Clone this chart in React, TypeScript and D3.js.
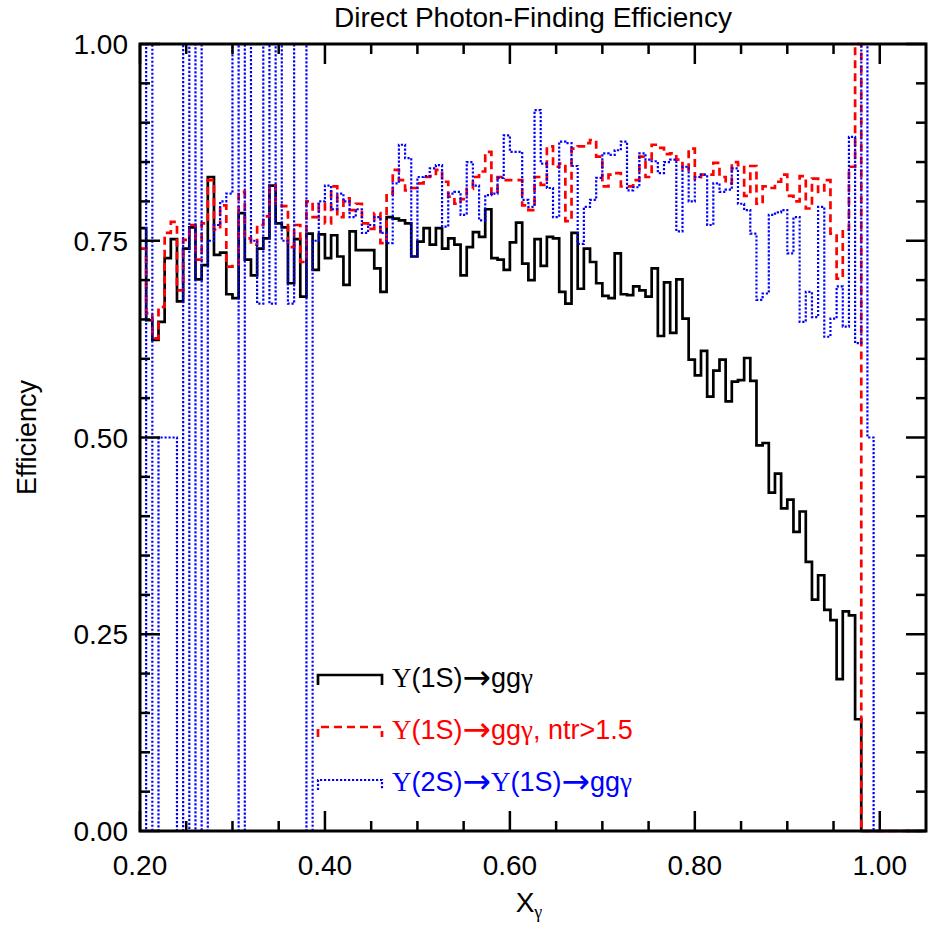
import React from "react";
import * as d3 from "d3";

// ---- data (efficiency per bin, bins of width 1/150 starting at x = 0.20) ----
const BIN_START = 0.2;
const BIN_WIDTH = 1 / 150;

const ups1S: number[] = [
  0.766, 0.649, 0.624, 0.647, 0.728, 0.752, 0.673, 0.740, 0.767, 0.701,
  0.719, 0.831, 0.732, 0.735, 0.682, 0.677, 0.785, 0.726, 0.706, 0.740,
  0.753, 0.820, 0.772, 0.767, 0.696, 0.752, 0.679, 0.759, 0.713, 0.758,
  0.728, 0.757, 0.730, 0.694, 0.762, 0.738, 0.738, 0.738, 0.715, 0.685,
  0.780, 0.778, 0.776, 0.772, 0.730, 0.749, 0.766, 0.745, 0.766, 0.740,
  0.753, 0.745, 0.706, 0.742, 0.761, 0.755, 0.790, 0.728, 0.726, 0.713,
  0.748, 0.773, 0.721, 0.700, 0.752, 0.718, 0.755, 0.753, 0.685, 0.670,
  0.760, 0.689, 0.740, 0.723, 0.696, 0.680, 0.677, 0.734, 0.682, 0.681,
  0.692, 0.687, 0.679, 0.715, 0.629, 0.697, 0.633, 0.701, 0.651, 0.599,
  0.579, 0.610, 0.552, 0.585, 0.599, 0.546, 0.571, 0.573, 0.601, 0.572,
  0.490, 0.493, 0.430, 0.454, 0.410, 0.421, 0.380, 0.406, 0.342, 0.294,
  0.325, 0.281, 0.268, 0.193, 0.279, 0.274, 0.142,
];

const ups1SNtr: number[] = [
  0.740, 0.658, 0.626, 0.666, 0.760, 0.774, 0.687, 0.751, 0.770, 0.726,
  0.772, 0.827, 0.764, 0.795, 0.717, 0.720, 0.812, 0.753, 0.745, 0.770,
  0.781, 0.820, 0.795, 0.794, 0.742, 0.770, 0.723, 0.800, 0.780, 0.797,
  0.772, 0.819, 0.780, 0.804, 0.789, 0.797, 0.772, 0.765, 0.785, 0.747,
  0.810, 0.840, 0.827, 0.814, 0.817, 0.823, 0.831, 0.832, 0.840, 0.825,
  0.806, 0.797, 0.803, 0.816, 0.831, 0.838, 0.863, 0.810, 0.831, 0.827,
  0.827, 0.827, 0.795, 0.789, 0.831, 0.821, 0.870, 0.844, 0.848, 0.775,
  0.867, 0.870, 0.874, 0.878, 0.857, 0.819, 0.834, 0.836, 0.819, 0.819,
  0.827, 0.857, 0.831, 0.872, 0.868, 0.860, 0.861, 0.853, 0.840, 0.867,
  0.829, 0.834, 0.834, 0.849, 0.831, 0.823, 0.850, 0.846, 0.807, 0.845,
  0.797, 0.819, 0.817, 0.825, 0.834, 0.807, 0.800, 0.832, 0.791, 0.829,
  0.812, 0.827, 0.759, 0.702, 0.764, 0.844, 1.000,
];

const ups2S: number[] = [
  0.000, 1.000, 0.000, 0.500, 0.500, 0.500, 0.000, 1.000, 0.000, 1.000,
  0.000, 0.750, 0.770, 0.800, 0.810, 1.000, 0.000, 1.000, 0.750, 0.670,
  1.000, 0.670, 1.000, 0.750, 0.670, 1.000, 1.000, 0.000, 0.750, 0.800,
  0.820, 0.790, 0.810, 0.800, 0.780, 0.790, 0.760, 0.770, 0.780, 0.760,
  0.747, 0.823, 0.872, 0.855, 0.730, 0.831, 0.832, 0.842, 0.846, 0.768,
  0.810, 0.812, 0.783, 0.850, 0.820, 0.776, 0.808, 0.810, 0.830, 0.884,
  0.863, 0.863, 0.802, 0.793, 0.916, 0.848, 0.817, 0.780, 0.876, 0.874,
  0.845, 0.746, 0.793, 0.802, 0.830, 0.861, 0.859, 0.865, 0.876, 0.814,
  0.818, 0.861, 0.853, 0.851, 0.836, 0.850, 0.853, 0.762, 0.844, 0.800,
  0.831, 0.834, 0.770, 0.823, 0.812, 0.815, 0.842, 0.797, 0.789, 0.759,
  0.675, 0.683, 0.783, 0.786, 0.789, 0.734, 0.780, 0.647, 0.685, 0.653,
  0.793, 0.628, 0.651, 0.692, 0.641, 0.882, 0.620, 1.000, 0.500,
];

const xTickLabels = ["0.20", "0.40", "0.60", "0.80", "1.00"];
const yTickLabels = ["0.00", "0.25", "0.50", "0.75", "1.00"];

const TITLE = "Direct Photon-Finding Efficiency";
const Y_TITLE = "Efficiency";

// ---- layout ----
const W = 928;
const H = 929;
const PL = 140;
const PR = 926;
const PT = 44;
const PB = 831;
const X_MIN = 0.2;
const X_MAX = 1.05;
const SANS = "'Liberation Sans', Arial, Helvetica, sans-serif";
const SERIF = "'Liberation Serif', 'Times New Roman', serif";
const ARROW = "'DejaVu Sans', sans-serif";
const FS = 27;

const x = d3.scaleLinear().domain([X_MIN, X_MAX]).range([PL, PR]);
const y = d3.scaleLinear().domain([0, 1]).range([PB, PT]);

function histPath(values: number[]): string {
  const pts: [number, number][] = values.map((v, i) => [BIN_START + i * BIN_WIDTH, v]);
  const end = BIN_START + values.length * BIN_WIDTH;
  pts.push([end, 0]);
  pts.push([X_MAX, 0]);
  const line = d3
    .line<[number, number]>()
    .x((d) => x(d[0]))
    .y((d) => y(d[1]))
    .curve(d3.curveStepAfter);
  return line(pts) || "";
}

const series = [
  { values: ups1S, color: "#000000", width: 2.7, dash: undefined as string | undefined },
  { values: ups1SNtr, color: "#ff0000", width: 2.7, dash: "8,5" },
  { values: ups2S, color: "#0000ff", width: 2.2, dash: "2.2,1.8" },
];

// tokens: "U" = upsilon (serif), "->" = arrow, "gamma" = gamma (serif), anything else = sans text
function Label({ tokens }: { tokens: string[] }) {
  return (
    <>
      {tokens.map((t, i) => {
        const afterArrow = i > 0 && tokens[i - 1] === "->";
        const dy = afterArrow ? -2 : undefined;
        if (t === "U")
          return (
            <tspan key={i} fontFamily={SERIF} dy={dy}>
              Υ
            </tspan>
          );
        if (t === "->")
          return (
            <tspan key={i} fontFamily={ARROW} fontSize={34} dy={2}>
              →
            </tspan>
          );
        if (t === "gamma")
          return (
            <tspan key={i} fontFamily={SERIF} dy={dy}>
              γ
            </tspan>
          );
        return (
          <tspan key={i} dy={dy}>
            {t}
          </tspan>
        );
      })}
    </>
  );
}

export default function App() {
  const xMajor = xTickLabels.map((t) => +t);
  const xMinor = d3.range(0.25, 1.05, 0.05).filter((v) => !xMajor.some((m) => Math.abs(m - v) < 1e-6));
  const yMajor = yTickLabels.map((t) => +t);
  const yMinor = d3.range(0.05, 1.0, 0.05).filter((v) => !yMajor.some((m) => Math.abs(m - v) < 1e-6));

  const LONG = 20;
  const SHORT = 10;

  const legendX = 318;
  const legendLen = 64;
  const legendRows = [
    { y: 675, s: series[0] },
    { y: 727, s: series[1] },
    { y: 780, s: series[2] },
  ];

  return (
    <svg
      width={W}
      height={H}
      style={{ position: "absolute", left: 0, top: 0, background: "#fff" }}
      fontFamily={SANS}
    >
      <defs>
        <clipPath id="plotClip">
          <rect x={PL} y={PT - 2} width={PR - PL} height={PB - PT + 4} />
        </clipPath>
      </defs>
      <rect x={0} y={0} width={W} height={H} fill="#fff" />

      {/* title */}
      <text x={(PL + PR) / 2} y={27} fontSize={28} textAnchor="middle" fill="#000">
        {TITLE}
      </text>

      {/* series */}
      <g clipPath="url(#plotClip)">
        {series.map((s, i) => (
          <path
            key={i}
            d={histPath(s.values)}
            fill="none"
            stroke={s.color}
            strokeWidth={s.width}
            strokeDasharray={s.dash}
            strokeLinejoin="miter"
          />
        ))}
      </g>

      {/* legend */}
      {legendRows.map((r, i) => (
        <path
          key={"lg" + i}
          d={`M${legendX},${r.y + 10}V${r.y}H${legendX + legendLen}V${r.y + 10}`}
          fill="none"
          stroke={r.s.color}
          strokeWidth={r.s.width}
          strokeDasharray={r.s.dash}
        />
      ))}
      <text x={392} y={687} fontSize={FS} fill="#000">
        <Label tokens={["U", "(1S)", "->", "gg", "gamma"]} />
      </text>
      <text x={392} y={739} fontSize={FS} fill="#ff0000">
        <Label tokens={["U", "(1S)", "->", "gg", "gamma", ", ntr>1.5"]} />
      </text>
      <text x={392} y={791} fontSize={FS} fill="#0000ff">
        <Label tokens={["U", "(2S)", "->", "U", "(1S)", "->", "gg", "gamma"]} />
      </text>

      {/* ticks */}
      <g stroke="#000" strokeWidth={2.5}>
        {xMajor.map((v, i) => (
          <g key={"xM" + i}>
            <line x1={x(v)} x2={x(v)} y1={PB} y2={PB - LONG} />
            <line x1={x(v)} x2={x(v)} y1={PT} y2={PT + LONG} />
          </g>
        ))}
        {xMinor.map((v, i) => (
          <g key={"xm" + i}>
            <line x1={x(v)} x2={x(v)} y1={PB} y2={PB - SHORT} />
            <line x1={x(v)} x2={x(v)} y1={PT} y2={PT + SHORT} />
          </g>
        ))}
        {yMajor.map((v, i) => (
          <g key={"yM" + i}>
            <line x1={PL} x2={PL + LONG} y1={y(v)} y2={y(v)} />
            <line x1={PR} x2={PR - LONG} y1={y(v)} y2={y(v)} />
          </g>
        ))}
        {yMinor.map((v, i) => (
          <g key={"ym" + i}>
            <line x1={PL} x2={PL + SHORT} y1={y(v)} y2={y(v)} />
            <line x1={PR} x2={PR - SHORT} y1={y(v)} y2={y(v)} />
          </g>
        ))}
      </g>

      {/* frame */}
      <rect x={PL} y={PT} width={PR - PL} height={PB - PT} fill="none" stroke="#000" strokeWidth={3} />

      {/* tick labels */}
      {xTickLabels.map((t, i) => (
        <text key={"xl" + i} x={x(+t)} y={875} fontSize={28} textAnchor="middle" fill="#000">
          {t}
        </text>
      ))}
      {yTickLabels.map((t, i) => (
        <text key={"yl" + i} x={128} y={y(+t) + 10} fontSize={28} textAnchor="end" fill="#000">
          {t}
        </text>
      ))}

      {/* axis titles */}
      <text x={(PL + PR) / 2 - 4} y={912} fontSize={28} textAnchor="middle" fill="#000">
        X<tspan fontFamily={SERIF} fontSize={18} dy={6}>γ</tspan>
      </text>
      <text
        transform={`translate(36,${(PT + PB) / 2}) rotate(-90)`}
        fontSize={27}
        textAnchor="middle"
        fill="#000"
      >
        {Y_TITLE}
      </text>
    </svg>
  );
}
